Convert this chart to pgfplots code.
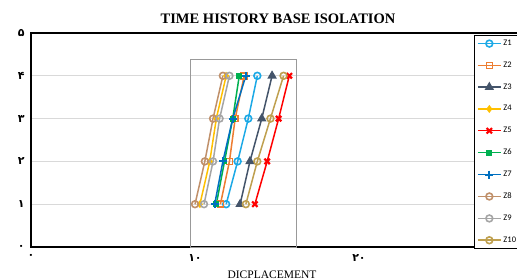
\documentclass[border=0pt]{standalone}
\usepackage{pgfplots}
\pgfplotsset{compat=1.18}
\usepackage{fontspec}
\setmainfont{Liberation Serif}
\newfontfamily\arabicfont[Script=Arabic]{DejaVu Sans}
\newfontfamily\legfont{Carlito}
\definecolor{cA}{HTML}{1CA9E6}
\definecolor{cB}{HTML}{ED7D31}
\definecolor{cC}{HTML}{44546A}
\definecolor{cD}{HTML}{FFC000}
\definecolor{cE}{HTML}{FF0000}
\definecolor{cF}{HTML}{00B050}
\definecolor{cG}{HTML}{0070C0}
\definecolor{cH}{HTML}{C0906A}
\definecolor{cI}{HTML}{A5A5A5}
\definecolor{cJ}{HTML}{BFA04F}
\begin{document}
\begin{tikzpicture}[x=1pt,y=1pt]
\begin{axis}[
  scale only axis, width=492pt, height=214pt,
  at={(31pt,33pt)}, anchor=south west,
  xmin=0, xmax=30, ymin=0, ymax=5,
  axis line style={line width=1.3pt},
  xtick={0,10,20}, xticklabels={۰,۱۰,۲۰},
  ytick={0,1,2,3,4,5}, yticklabels={۰,۱,۲,۳,۴,۵},
  ticklabel style={font=\arabicfont\bfseries\fontsize{11}{12}\selectfont},
  major tick length=0pt,
  ymajorgrids, grid style={draw=black!15, line width=0.6pt},
  yticklabel style={xshift=-3pt},
  xticklabel style={yshift=-4pt},
  clip=false,
  every axis plot/.append style={line width=1.5pt},
  legend style={at={(axis cs:27.0,4.96)}, anchor=north west, draw=black, line width=0.8pt,
    font=\legfont\fontsize{8.5}{9}\selectfont, row sep=10.8pt, inner sep=3pt,
    fill=white},
  legend cell align=left,
  legend image code/.code={
    \draw[mark repeat=2,mark phase=2,#1] plot coordinates {(0cm,0cm) (0.4cm,0cm) (0.8cm,0cm)};},
]
\draw[gray!80, line width=0.8pt] (axis cs:9.7,0) rectangle (axis cs:16.2,4.39);
\addplot[cA, mark=o, mark size=3.4pt, mark options={line width=1.6pt, fill=white}] coordinates {(11.9,1) (12.6,2) (13.25,3) (13.8,4)};
\addlegendentry{Z1}
\addplot[cB, mark=square, mark size=3pt, mark options={line width=1.6pt}] coordinates {(11.55,1) (12.1,2) (12.45,3) (13.0,4)};
\addlegendentry{Z2}
\addplot[cC, mark=triangle*, mark size=4pt] coordinates {(12.75,1) (13.35,2) (14.07,3) (14.7,4)};
\addlegendentry{Z3}
\addplot[cD, mark=diamond*, mark size=2.8pt] coordinates {(10.3,1) (10.9,2) (11.3,3) (11.9,4)};
\addlegendentry{Z4}
\addplot[cE, mark=x, mark size=3.8pt, mark options={line width=2.2pt}] coordinates {(13.65,1) (14.4,2) (15.1,3) (15.75,4)};
\addlegendentry{Z5}
\addplot[cF, mark=square*, mark size=2.2pt] coordinates {(11.3,1) (11.8,2) (12.3,3) (12.7,4)};
\addlegendentry{Z6}
\addplot[cG, mark=+, mark size=4pt, mark options={line width=2pt}] coordinates {(11.2,1) (11.7,2) (12.3,3) (13.1,4)};
\addlegendentry{Z7}
\addplot[cH, mark=o, mark size=3.4pt, mark options={line width=1.6pt, fill=white}] coordinates {(10.0,1) (10.6,2) (11.1,3) (11.7,4)};
\addlegendentry{Z8}
\addplot[cI, mark=o, mark size=3.4pt, mark options={line width=1.6pt, fill=white}] coordinates {(10.55,1) (11.1,2) (11.5,3) (12.1,4)};
\addlegendentry{Z9}
\addplot[cJ, mark=o, mark size=3.4pt, mark options={line width=1.6pt, fill=white}] coordinates {(13.1,1) (13.8,2) (14.6,3) (15.4,4)};
\addlegendentry{Z10}
\end{axis}
\node[font=\bfseries\fontsize{14.5}{16}\selectfont] at (278pt,261pt) {TIME HISTORY BASE ISOLATION};
\node[font=\fontsize{11.5}{12}\selectfont, anchor=base] at (272pt,1.5pt) {DICPLACEMENT};
\pgfresetboundingbox
\useasboundingbox (0,0) rectangle (517pt,280pt);
\end{tikzpicture}
\end{document}
